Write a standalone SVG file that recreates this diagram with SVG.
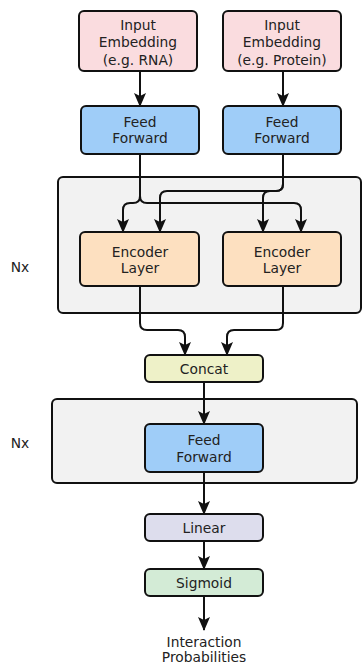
<svg xmlns="http://www.w3.org/2000/svg" width="364" height="664" viewBox="0 0 364 664">
<style>
  .box{stroke:#111;stroke-width:2}
  .cont{fill:#f2f2f2;stroke:#111;stroke-width:2}
  .in{fill:#fadcdf}
  .ff{fill:#9fcdf8}
  .enc{fill:#fde0c0}
  .cat{fill:#eef1c8}
  .lin{fill:#dddded}
  .sig{fill:#d3ebd6}
  text{font-family:"DejaVu Sans","Liberation Sans",sans-serif;font-size:13.8px;fill:#222;text-anchor:middle}
  .c{fill:none;stroke:#111;stroke-width:2;marker-end:url(#ah)}
</style>
<defs>
  <marker id="ah" viewBox="0 0 14 12" refX="13" refY="6" markerWidth="14" markerHeight="12" markerUnits="userSpaceOnUse" orient="auto">
    <path d="M0,0 L14,6 L0,12 L3,6 z" fill="#111"/>
  </marker>
</defs>
<rect width="364" height="664" fill="#fff"/>
<g id="container1">
  <rect class="cont" x="58" y="177" width="303" height="136" rx="5"/>
  <text x="20" y="272">Nx</text>
</g>
<g id="container2">
  <rect class="cont" x="52" y="399" width="305" height="84" rx="5"/>
  <text x="20" y="448">Nx</text>
</g>
<g id="connectors">
  <path class="c" d="M140,71 L140,106"/>
  <path class="c" d="M283,71 L283,106"/>
  <path class="c" d="M140,154 L140,196 Q140,203 133,203 L130,203 Q123,203 123,210 L123,232"/>
  <path class="c" d="M140,196 Q140,203 147,203 L294,203 Q301,203 301,210 L301,232"/>
  <path class="c" d="M283,154 L283,184 Q283,191 276,191 L167,191 Q160,191 160,198 L160,232"/>
  <path class="c" d="M283,184 Q283,191 276,191 L270,191 Q263,191 263,198 L263,232"/>
  <path class="c" d="M140,286 L140,323 Q140,330 147,330 L178,330 Q185,330 185,337 L185,355"/>
  <path class="c" d="M283,286 L283,323 Q283,330 276,330 L234,330 Q227,330 227,337 L227,355"/>
  <path class="c" d="M204,382 L204,424"/>
  <path class="c" d="M204,472 L204,514"/>
  <path class="c" d="M204,541 L204,569"/>
  <path class="c" d="M204,596 L204,630"/>
</g>
<g id="input_rna">
  <rect class="box in" x="79" y="11" width="118" height="60" rx="5"/>
  <text x="138" y="30">Input</text>
  <text x="138" y="47">Embedding</text>
  <text x="138" y="65">(e.g. RNA)</text>
</g>
<g id="input_protein">
  <rect class="box in" x="223" y="11" width="118" height="60" rx="5"/>
  <text x="282" y="30">Input</text>
  <text x="282" y="47">Embedding</text>
  <text x="282" y="65">(e.g. Protein)</text>
</g>
<g id="ff_rna">
  <rect class="box ff" x="81" y="106" width="118" height="48" rx="5"/>
  <text x="140" y="127">Feed</text>
  <text x="140" y="142.5">Forward</text>
</g>
<g id="ff_protein">
  <rect class="box ff" x="223" y="106" width="118" height="48" rx="5"/>
  <text x="282" y="127">Feed</text>
  <text x="282" y="142.5">Forward</text>
</g>
<g id="enc_left">
  <rect class="box enc" x="80" y="232" width="119" height="54" rx="5"/>
  <text x="140" y="257">Encoder</text>
  <text x="140" y="273">Layer</text>
</g>
<g id="enc_right">
  <rect class="box enc" x="223" y="232" width="118" height="54" rx="5"/>
  <text x="282" y="257">Encoder</text>
  <text x="282" y="273">Layer</text>
</g>
<g id="concat">
  <rect class="box cat" x="145" y="355" width="118" height="27" rx="5"/>
  <text x="204" y="374">Concat</text>
</g>
<g id="ff_joint">
  <rect class="box ff" x="145" y="424" width="118" height="48" rx="5"/>
  <text x="204" y="445">Feed</text>
  <text x="204" y="461.5">Forward</text>
</g>
<g id="linear">
  <rect class="box lin" x="145" y="514" width="118" height="27" rx="5"/>
  <text x="204" y="533">Linear</text>
</g>
<g id="sigmoid">
  <rect class="box sig" x="145" y="569" width="118" height="27" rx="5"/>
  <text x="204" y="588">Sigmoid</text>
</g>
<g id="output">
  <text x="204" y="647">Interaction</text>
  <text x="204" y="662">Probabilities</text>
</g>
</svg>
